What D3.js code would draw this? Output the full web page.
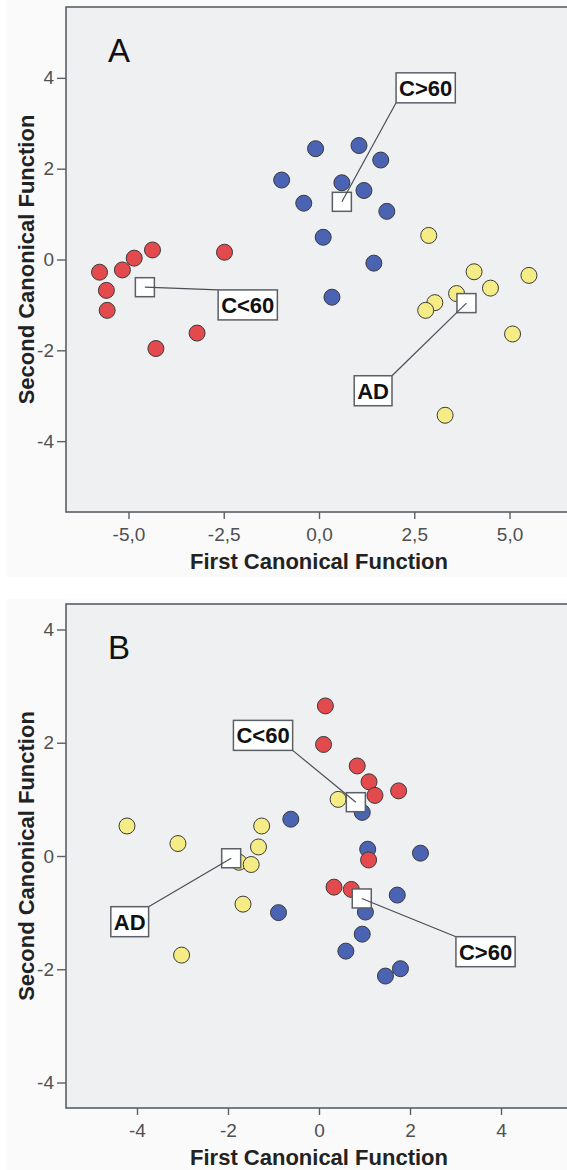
<!DOCTYPE html>
<html>
<head>
<meta charset="utf-8">
<script src="https://cdn.jsdelivr.net/npm/d3@7"></script>
<style>
	body { margin: 0; background: #fff; }
	svg { display: block; font-family: "Liberation Sans", Arial, sans-serif; }
</style>
</head>
<body>
<svg id="chart" width="567" height="1170"></svg>
<script>
(function () {
	'use strict';

	// group names, in drawing order
	var groups = ["AD", "C>60", "C<60"];
	var groupColors = ["#f5ec86", "#4a63b3", "#e24a4e"];

	// panel A: discriminant scores (first, second canonical function)
	var aAD = [[2.88, 0.53], [4.07, -0.27], [5.51, -0.35], [4.50, -0.63], [3.61, -0.75],
		[3.04, -0.95], [2.80, -1.12], [5.08, -1.64], [3.31, -3.43]];
	var aOld = [[-0.98, 1.75], [-0.09, 2.44], [1.05, 2.51], [1.62, 2.19], [0.60, 1.69],
		[1.18, 1.52], [-0.40, 1.24], [1.78, 1.06], [0.11, 0.49], [1.44, -0.08], [0.34, -0.83]];
	var aYoung = [[-5.76, -0.28], [-5.58, -0.68], [-5.56, -1.12], [-5.16, -0.23], [-4.85, 0.03],
		[-4.37, 0.21], [-2.48, 0.16], [-3.20, -1.62], [-4.28, -1.96]];
	var aCentroids = [[3.87, -0.96], [0.60, 1.27], [-4.57, -0.61]];
	var aLabelPos = [[1.42, -2.89], [2.80, 3.78], [-1.87, -1.00]];
	var aXTicks = [-5, -2.5, 0, 2.5, 5];
	var aYTicks = [-4, -2, 0, 2, 4];

	// panel B
	var bAD = [[-4.22, 0.53], [-3.10, 0.22], [-1.26, 0.53], [-1.33, 0.16], [-1.76, -0.11],
		[-1.49, -0.15], [-1.67, -0.85], [-3.02, -1.75], [0.42, 1.00]];
	var bOld = [[-0.62, 0.65], [-0.89, -1.00], [0.95, 0.77], [1.07, 0.12], [2.23, 0.05],
		[1.72, -0.69], [1.02, -0.99], [0.95, -1.38], [0.59, -1.68], [1.79, -1.99], [1.46, -2.12]];
	var bYoung = [[0.14, 2.65], [0.10, 1.97], [0.84, 1.59], [1.10, 1.31], [1.23, 1.07],
		[1.75, 1.15], [1.09, -0.07], [0.33, -0.55], [0.71, -0.59]];
	var bCentroids = [[-1.93, -0.04], [0.94, -0.75], [0.81, 0.95]];
	var bLabelPos = [[-4.16, -1.16], [3.66, -1.69], [-1.23, 2.13]];
	var bXTicks = [-4, -2, 0, 2, 4];
	var bYTicks = [-4, -2, 0, 2, 4];

	var svg = d3.select("#chart");

	var comma = d3.formatLocale({decimal: ",", thousands: ".", grouping: [3], currency: ["", ""], minus: "-"});
	var plain = d3.formatLocale({decimal: ".", thousands: ",", grouping: [3], currency: ["", ""], minus: "-"});

	function drawPanel(p) {
		var g = svg.append("g");

		// chart background
		g.append("rect")
			.attr("x", 6).attr("y", p.bgTop)
			.attr("width", 600).attr("height", p.bgBottom - p.bgTop)
			.attr("fill", "#fafafa");

		var x = d3.scaleLinear().domain(p.xDomain).range([66, 572]);
		var y = d3.scaleLinear().domain(p.yDomain).range([p.bottom, p.top]);

		g.append("rect")
			.attr("x", 66).attr("y", p.top)
			.attr("width", 506).attr("height", p.bottom - p.top)
			.attr("fill", "#eef0f2")
			.attr("stroke", "#5a6066")
			.attr("stroke-width", 1.6);

		// axes
		var xAxis = g.append("g")
			.attr("transform", "translate(0," + p.bottom + ")")
			.call(d3.axisBottom(x).tickValues(p.xTicks).tickSize(7).tickPadding(9).tickFormat(p.xFormat));
		var yAxis = g.append("g")
			.attr("transform", "translate(66,0)")
			.call(d3.axisLeft(y).tickValues(p.yTicks).tickSize(9).tickPadding(3).tickFormat(plain.format("d")));
		[xAxis, yAxis].forEach(function(a) {
			a.select(".domain").remove();
			a.selectAll("line").attr("stroke", "#5a6066").attr("stroke-width", 1.4);
			a.selectAll("text")
				.attr("fill", "#505050")
				.style("font-size", "19px")
				.style("font-family", '"Liberation Sans", Arial, sans-serif');
		});

		// axis titles
		g.append("text")
			.attr("x", (66 + 572) / 2)
			.attr("y", p.bottom + 57)
			.attr("text-anchor", "middle")
			.attr("font-weight", "bold")
			.attr("font-size", 22)
			.attr("fill", "#222")
			.text("First Canonical Function");
		g.append("text")
			.attr("transform", "translate(34," + (p.top + p.bottom) / 2 + ") rotate(-90)")
			.attr("text-anchor", "middle")
			.attr("font-weight", "bold")
			.attr("font-size", 22)
			.attr("fill", "#222")
			.text("Second Canonical Function");

		// panel letter
		g.append("text")
			.attr("x", 108)
			.attr("y", p.letterY)
			.attr("font-size", 33)
			.attr("fill", "#111")
			.text(p.letter);

		// cases
		p.series.forEach(function(pts, i) {
			g.append("g").selectAll("circle")
				.data(pts)
				.enter()
					.append("circle")
					.attr("cx", function(d){return x(d[0]);})
					.attr("cy", function(d){return y(d[1]);})
					.attr("r", 8)
					.attr("fill", groupColors[i])
					.attr("stroke", "#3a3a3a")
					.attr("stroke-width", 1);
		});

		// group centroids
		g.append("g").selectAll("rect")
			.data(p.centroids)
			.enter()
				.append("rect")
				.attr("x", function(d){return x(d[0]) - 9.5;})
				.attr("y", function(d){return y(d[1]) - 9.5;})
				.attr("width", 19)
				.attr("height", 19)
				.attr("fill", "#fff")
				.attr("stroke", "#5a6066")
				.attr("stroke-width", 1.5);

		// centroid labels with leader lines
		p.labelPos.forEach(function(d, i) {
			var cx = x(d[0]), cy = y(d[1]);
			var lg = g.append("g");
			var line = lg.append("line");
			var box = lg.append("rect");
			var t = lg.append("text")
				.attr("x", cx)
				.attr("y", cy + 8)
				.attr("text-anchor", "middle")
				.attr("font-weight", "bold")
				.attr("font-size", 22)
				.attr("fill", "#111")
				.text(groups[i]);
			var w = t.node().getComputedTextLength() + 6, h = 30;
			var px = x(p.centroids[i][0]), py = y(p.centroids[i][1]);
			// leader starts at the nearest corner or edge midpoint of the box
			var best = null, bestD = Infinity;
			[-1, 0, 1].forEach(function(sx) {
				[-1, 0, 1].forEach(function(sy) {
					if (sx === 0 && sy === 0) return;
					var ax = cx + sx * w / 2, ay = cy + sy * h / 2;
					var dd = Math.hypot(ax - px, ay - py);
					if (dd < bestD) { bestD = dd; best = [ax, ay]; }
				});
			});
			line.attr("x1", best[0]).attr("y1", best[1])
				.attr("x2", px).attr("y2", py)
				.attr("stroke", "#4a4f55")
				.attr("stroke-width", 1.2);
			box.attr("x", cx - w / 2).attr("y", cy - h / 2)
				.attr("width", w).attr("height", h)
				.attr("fill", "#fff")
				.attr("stroke", "#5a6066")
				.attr("stroke-width", 1.5);
		});
	}

	drawPanel({
		letter: "A", letterY: 62,
		bgTop: 0, bgBottom: 577,
		top: 7, bottom: 512,
		xDomain: [-6.64, 6.64], yDomain: [-5.56, 5.56],
		xTicks: aXTicks, yTicks: aYTicks,
		xFormat: comma.format(".1f"),
		series: [aAD, aOld, aYoung],
		centroids: aCentroids, labelPos: aLabelPos
	});

	drawPanel({
		letter: "B", letterY: 659,
		bgTop: 599, bgBottom: 1170,
		top: 604, bottom: 1108,
		xDomain: [-5.56, 5.56], yDomain: [-4.45, 4.45],
		xTicks: bXTicks, yTicks: bYTicks,
		xFormat: plain.format("d"),
		series: [bAD, bOld, bYoung],
		centroids: bCentroids, labelPos: bLabelPos
	});
}());
</script>
</body>
</html>
